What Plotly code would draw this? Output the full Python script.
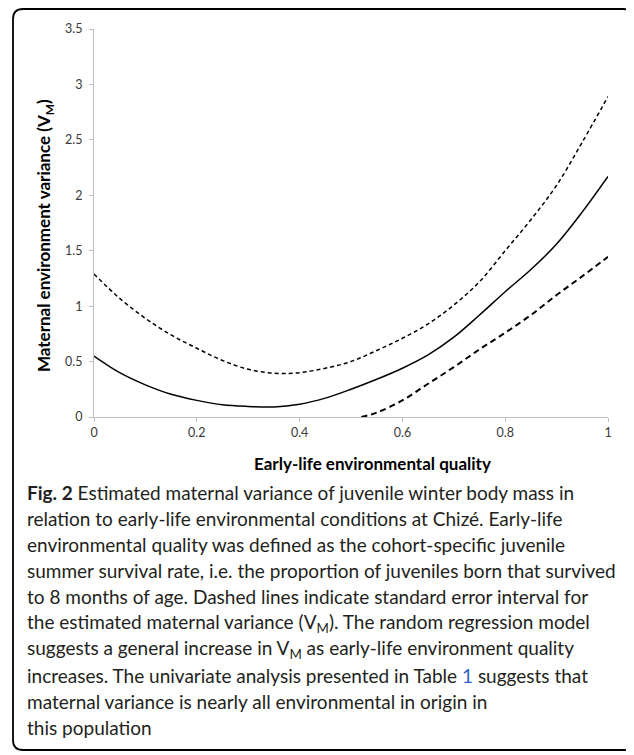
import plotly.graph_objects as go

# ---- data ----
quality = [0, 0.05, 0.1, 0.15, 0.2, 0.25, 0.3, 0.35, 0.4, 0.45, 0.5,
           0.55, 0.6, 0.65, 0.7, 0.75, 0.8, 0.85, 0.9, 0.95, 1.0]
vm_estimate = [0.55, 0.40, 0.29, 0.205, 0.15, 0.11, 0.095, 0.09, 0.115, 0.17, 0.25,
               0.34, 0.44, 0.56, 0.72, 0.92, 1.13, 1.33, 1.56, 1.85, 2.17]
vm_upper = [1.29, 1.07, 0.89, 0.74, 0.62, 0.51, 0.43, 0.395, 0.40, 0.44, 0.50,
            0.60, 0.71, 0.84, 1.01, 1.22, 1.50, 1.78, 2.09, 2.48, 2.89]
quality_lower = [0.52, 0.55, 0.6, 0.65, 0.7, 0.75, 0.8, 0.85, 0.9, 0.95, 1.0]
vm_lower = [0.0, 0.04, 0.15, 0.30, 0.45, 0.61, 0.76, 0.92, 1.10, 1.27, 1.445]

x_ticks = [0, 0.2, 0.4, 0.6, 0.8, 1]
y_ticks = [0, 0.5, 1, 1.5, 2, 2.5, 3, 3.5]

caption_lines = [
    "<b>Fig. 2</b> Estimated maternal variance of juvenile winter body mass in",
    "relation to early-life environmental conditions at Chizé. Early-life",
    "environmental quality was defined as the cohort-specific juvenile",
    "summer survival rate, i.e. the proportion of juveniles born that survived",
    "to 8 months of age. Dashed lines indicate standard error interval for",
    "the estimated maternal variance (V<sub>M</sub>). The random regression model",
    "suggests a general increase in V<sub>M</sub> as early-life environment quality",
    "increases. The univariate analysis presented in Table <span style='color:#2f5fc4'>1</span> suggests that",
    "maternal variance is nearly all environmental in origin in",
    "this population",
]

# the page body adds an 8px offset; positions below are page pixels
OFF = 8
W, H = 634 - OFF, 755 - OFF
PLOT_L, PLOT_R, PLOT_T, PLOT_B = 94, 608, 29, 417
L, T = PLOT_L - OFF, PLOT_T - OFF
R = W - (PLOT_R - OFF)
B = H - (PLOT_B - OFF)
PW, PH = PLOT_R - PLOT_L, PLOT_B - PLOT_T


def px(xp):
    return (xp - PLOT_L) / PW


def py(yp):
    return (PLOT_B - yp) / PH


fig = go.Figure()
fig.add_trace(go.Scatter(x=quality, y=vm_upper, mode="lines",
                         line=dict(color="#000", width=1.5, dash="4px,3px", shape="spline"),
                         showlegend=False, hoverinfo="skip"))
fig.add_trace(go.Scatter(x=quality, y=vm_estimate, mode="lines",
                         line=dict(color="#000", width=1.5, shape="spline"),
                         showlegend=False, hoverinfo="skip"))
fig.add_trace(go.Scatter(x=quality_lower, y=vm_lower, mode="lines",
                         line=dict(color="#000", width=2, dash="6px,4px", shape="spline"),
                         showlegend=False, hoverinfo="skip"))

axis_font = dict(family="Lato, sans-serif", size=12.5, color="#3a3a3a")
fig.update_xaxes(range=[0, 1], tickvals=x_ticks, ticktext=[f"{v:g}" for v in x_ticks],
                 showgrid=False, zeroline=False, showline=True, linecolor="#bfbfbf",
                 linewidth=1, ticks="outside", ticklen=4, tickcolor="#bfbfbf",
                 tickfont=axis_font)
fig.update_yaxes(range=[0, 3.5], tickvals=y_ticks, ticktext=[f"{v:g}" for v in y_ticks],
                 showgrid=False, zeroline=False, showline=True, linecolor="#bfbfbf",
                 linewidth=1, ticks="outside", ticklen=4, tickcolor="#bfbfbf",
                 tickfont=axis_font, ticklabelstandoff=4)

annotations = [
    dict(text="<b>Maternal environment variance (V<sub>M</sub>)</b>", textangle=-90,
         x=px(45), y=py(236), xref="paper", yref="paper", showarrow=False,
         font=dict(family="Lato, sans-serif", size=17, color="#000"),
         xanchor="center", yanchor="middle"),
    dict(text="<b>Early-life environmental quality</b>",
         x=px(372), y=py(463), xref="paper", yref="paper", showarrow=False,
         font=dict(family="Lato, sans-serif", size=17, color="#000"),
         xanchor="center", yanchor="middle"),
]
for i, line in enumerate(caption_lines):
    annotations.append(dict(text=line, x=px(25), y=py(492 + i * 26.2),
                            xref="paper", yref="paper", showarrow=False,
                            xanchor="left", yanchor="middle", align="left",
                            font=dict(family="Lato, sans-serif", size=19, color="#231f20")))

# rounded border (page pixels)
x0, y0, x1, y1, r = 13, 9, 633, 750, 10
path = (f"M {px(x0 + r)},{py(y0)} L {px(x1 - r)},{py(y0)} "
        f"Q {px(x1)},{py(y0)} {px(x1)},{py(y0 + r)} "
        f"L {px(x1)},{py(y1 - r)} Q {px(x1)},{py(y1)} {px(x1 - r)},{py(y1)} "
        f"L {px(x0 + r)},{py(y1)} Q {px(x0)},{py(y1)} {px(x0)},{py(y1 - r)} "
        f"L {px(x0)},{py(y0 + r)} Q {px(x0)},{py(y0)} {px(x0 + r)},{py(y0)} Z")
fig.add_shape(type="path", path=path, xref="paper", yref="paper",
              line=dict(color="#000", width=1.8), layer="above")

fig.update_layout(width=W, height=H, margin=dict(l=L, r=R, t=T, b=B),
                  paper_bgcolor="#fff", plot_bgcolor="#fff",
                  annotations=annotations, showlegend=False)

fig.write_html("out.html")
